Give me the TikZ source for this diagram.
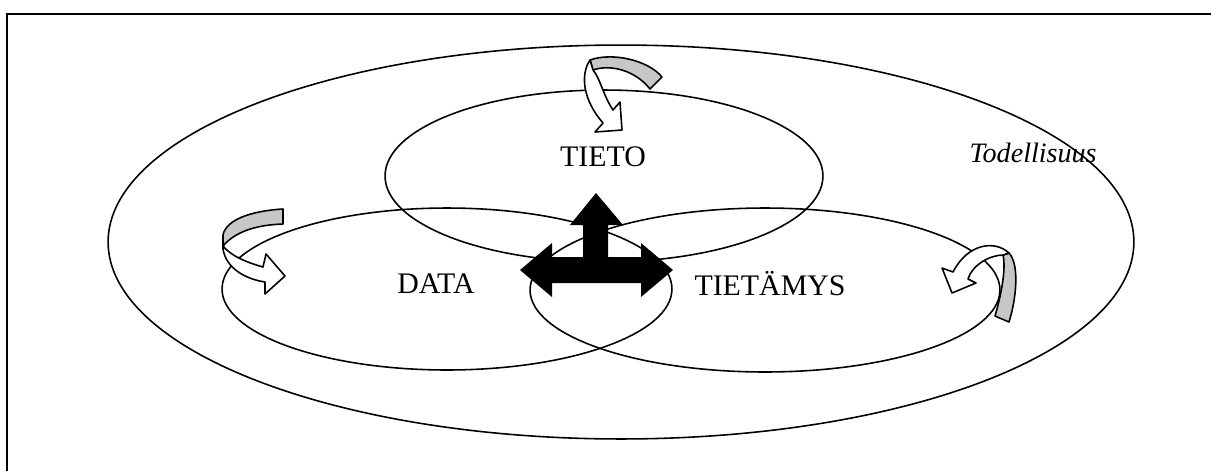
\documentclass[tikz,border=0pt]{standalone}
\usepackage{fontspec}
\setmainfont{Liberation Serif}
\usetikzlibrary{shapes.geometric}
\begin{document}
\begin{tikzpicture}[x=0.02cm, y=-0.02cm,
  ring/.style={ellipse, draw, line width=0.9pt, inner sep=0pt},
  label/.style={font=\fontsize{17}{20}\selectfont, inner sep=0pt},
  ribbonback/.style={draw, line width=0.9pt, fill=black!22, line join=round},
  ribbonfront/.style={draw, line width=0.9pt, fill=white, line join=round}]
\useasboundingbox (0,0) rectangle (1211,471);

% frame
\coordinate (fl) at (7,471);
\coordinate (fc) at (7,14);
\coordinate (fr) at (1211,14);
\draw[line width=1.3pt] (fl) -- (fc) -- (fr);

% nested sets
\node[ring, minimum width=20.52cm, minimum height=7.88cm] (outer) at (621,242) {};
\node[ring, minimum width=8.76cm, minimum height=3.44cm] (tietoE) at (604,176) {};
\node[ring, minimum width=9.0cm, minimum height=3.24cm] (dataE) at (447,289) {};
\node[ring, minimum width=9.4cm, minimum height=3.28cm] (tietamysE) at (765,290) {};

% labels
\node[label] (tieto) at (603,157) {TIETO};
\node[label] (data) at (436,284) {DATA};
\node[label] (tietamys) at (770,284) {TIETÄMYS};
\node[label, font=\fontsize{16}{19}\selectfont\itshape, anchor=base east] (todellisuus) at (1097,162) {Todellisuus};

% central three-way arrow
\fill (520,270) -- (552,243) -- (552,257) -- (583,257) -- (583,225) -- (570,225)
  -- (596,193) -- (623,225) -- (608,225) -- (608,257) -- (641,257) -- (641,243)
  -- (673,270) -- (641,297) -- (641,283) -- (552,283) -- (552,297) -- cycle;

% curved ribbon arrow above TIETO
\path[ribbonback] (662,77) .. controls (648,60) and (612,52) .. (590,60) -- (593,70)
  .. controls (610,64) and (635,70) .. (650,89) -- cycle;
\path[ribbonfront] (590,60) .. controls (580,75) and (583,100) .. (603,123) -- (595,132)
  -- (622,130) -- (620,102) -- (613,110) .. controls (603,95) and (600,78) .. (593,70) -- cycle;

% curved ribbon arrow at DATA
\path[ribbonback] (283,209) .. controls (250,211) and (226,220) .. (223,235) -- (223,246)
  .. controls (235,232) and (255,225) .. (283,224) -- cycle;
\path[ribbonfront] (223,246) -- (223,249) .. controls (226,268) and (245,279) .. (265,282)
  -- (265,294) -- (285,276) -- (266,254) -- (263,267)
  .. controls (245,262) and (230,255) .. (223,246) -- cycle;

% curved ribbon arrow at TIETÄMYS
\path[ribbonback] (995,316) .. controls (1002,292) and (1006,268) .. (1003,255) -- (1009,253)
  .. controls (1020,265) and (1016,300) .. (1009,322) -- cycle;
\path[ribbonfront] (1009,253) .. controls (995,240) and (968,243) .. (953,272) -- (942,268)
  -- (952,293) -- (976,283) -- (968,279) .. controls (972,265) and (990,255) .. (1003,255) -- cycle;
\end{tikzpicture}
\end{document}
